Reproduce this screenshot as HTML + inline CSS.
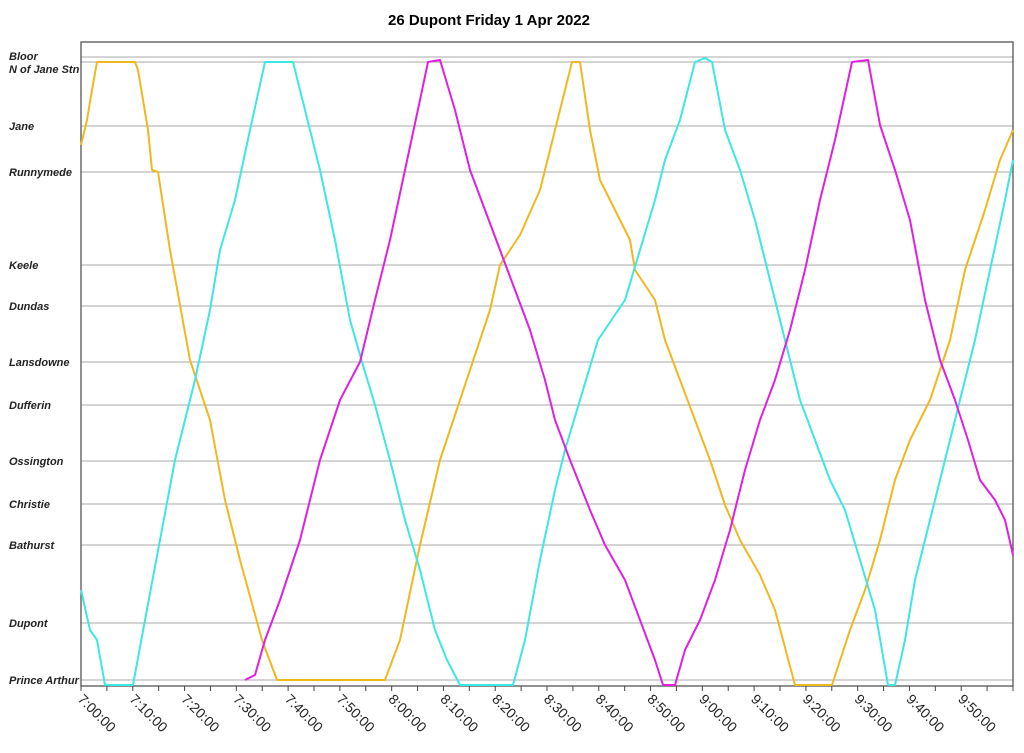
<!DOCTYPE html><html><head><style>body{margin:0;background:#fff}</style></head><body>
<svg width="1024" height="748" xmlns="http://www.w3.org/2000/svg" font-family="Liberation Sans, Arial, sans-serif">
<text x="489" y="25" text-anchor="middle" font-size="15" font-weight="bold">26 Dupont Friday 1 Apr 2022</text>
<g stroke="#aaa" stroke-width="1">
<line x1="81" x2="1013" y1="57" y2="57"/><line x1="81" x2="1013" y1="62" y2="62"/><line x1="81" x2="1013" y1="126" y2="126"/><line x1="81" x2="1013" y1="172" y2="172"/><line x1="81" x2="1013" y1="265" y2="265"/><line x1="81" x2="1013" y1="306" y2="306"/><line x1="81" x2="1013" y1="362" y2="362"/><line x1="81" x2="1013" y1="405" y2="405"/><line x1="81" x2="1013" y1="461" y2="461"/><line x1="81" x2="1013" y1="504" y2="504"/><line x1="81" x2="1013" y1="545" y2="545"/><line x1="81" x2="1013" y1="623" y2="623"/><line x1="81" x2="1013" y1="680" y2="680"/>
</g>
<rect x="81" y="42" width="932" height="644" fill="none" stroke="#555" stroke-width="1.3"/>
<g font-size="11" font-weight="bold" font-style="italic" fill="#222">
<text x="9" y="60">Bloor</text><text x="9" y="73">N of Jane Stn</text><text x="9" y="130">Jane</text><text x="9" y="176">Runnymede</text><text x="9" y="269">Keele</text><text x="9" y="310">Dundas</text><text x="9" y="366">Lansdowne</text><text x="9" y="409">Dufferin</text><text x="9" y="465">Ossington</text><text x="9" y="508">Christie</text><text x="9" y="549">Bathurst</text><text x="9" y="627">Dupont</text><text x="9" y="684">Prince Arthur</text>
</g>
<g id="ticks" stroke="#444"></g>
<g id="lab" font-size="14" fill="#222"></g>
<g fill="none" stroke-width="2" stroke-linejoin="round">
<polyline stroke="#f0b820" points="81,145 87,120 92,90 97,62 135,62 138,70 148,130 152,170 158,172 170,250 190,360 210,420 225,500 240,560 262,640 277,680 385,680 400,640 420,545 440,460 460,400 480,340 490,310 500,265 520,235 540,190 560,110 572,62 580,62 590,130 600,180 615,210 630,240 635,270 655,300 665,340 680,380 695,420 710,460 725,505 740,540 760,575 775,610 795,685 832,685 850,630 865,590 880,540 895,480 910,440 930,400 950,340 965,270 985,210 1000,160 1013,130"/>
<polyline stroke="#3ee6e6" points="81,590 90,630 97,640 105,685 133,685 145,620 160,540 175,460 195,380 210,310 220,250 235,200 250,130 265,62 293,62 305,110 320,170 335,240 350,320 362,362 375,405 390,460 405,520 420,570 435,630 447,660 460,685 513,685 525,640 540,560 555,490 565,450 580,400 598,340 625,300 640,250 655,200 665,160 680,120 695,62 705,58 712,62 725,130 740,170 755,220 770,280 790,360 800,400 815,440 830,480 845,510 860,560 875,610 888,685 895,685 905,640 915,580 930,520 945,460 960,400 975,340 990,270 1005,200 1013,160"/>
<polyline stroke="#e020e0" points="245,680 255,675 265,640 280,600 300,540 320,460 340,400 360,362 375,300 390,240 405,170 420,100 428,62 440,60 455,110 470,170 485,210 500,250 515,290 530,330 545,380 555,420 570,460 590,510 605,545 625,580 640,620 655,660 663,685 675,685 685,650 700,620 715,580 730,530 745,470 760,420 775,380 790,330 805,270 820,200 835,140 852,62 868,60 880,125 895,170 910,220 925,300 940,360 955,400 968,440 980,480 995,500 1005,520 1013,555"/>
</g>
</svg>
<script>
var t=document.getElementById('ticks'),l=document.getElementById('lab');
for(var i=0;i<=36;i++){var x=81+i*932/36;var e=document.createElementNS('http://www.w3.org/2000/svg','line');e.setAttribute('x1',x);e.setAttribute('x2',x);e.setAttribute('y1',686);e.setAttribute('y2',691);t.appendChild(e);
if(i%2==0&&i<36){var m=i*5,h=7+Math.floor(m/60),mm=m%60;var s=document.createElementNS('http://www.w3.org/2000/svg','text');s.setAttribute('transform','translate('+(x-4)+',700) rotate(45)');s.textContent=h+':'+(mm<10?'0':'')+mm+':00';l.appendChild(s);}}
</script>
</body></html>
